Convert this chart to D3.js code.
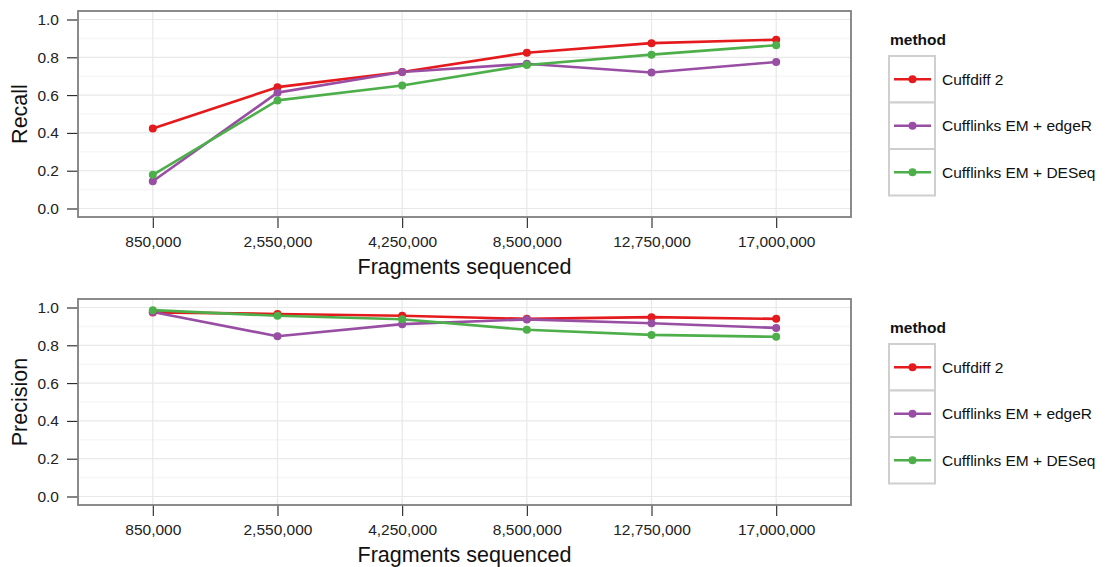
<!DOCTYPE html>
<html>
<head>
<meta charset="utf-8">
<script src="https://cdn.jsdelivr.net/npm/d3@7"></script>
<style>
  html, body { margin: 0; padding: 0; background: #fff; }
  svg { display: block; font-family: "Liberation Sans", Arial, Helvetica, sans-serif; }
</style>
</head>
<body>
<svg id="chart" width="1105" height="567"></svg>
<script>
// ---- data ----
const fragments = ["850,000", "2,550,000", "4,250,000", "8,500,000", "12,750,000", "17,000,000"];
const methods = ["Cuffdiff 2", "Cufflinks EM + edgeR", "Cufflinks EM + DESeq"];
const colors = ["#E41A1C", "#984EA3", "#4DAF4A"];

const recallCuffdiff = [0.423, 0.642, 0.722, 0.824, 0.875, 0.893];
const recallEdgeR    = [0.144, 0.613, 0.722, 0.766, 0.720, 0.775];
const recallDESeq    = [0.178, 0.572, 0.651, 0.759, 0.814, 0.864];

const precisionCuffdiff = [0.974, 0.966, 0.956, 0.940, 0.949, 0.940];
const precisionEdgeR    = [0.976, 0.848, 0.912, 0.937, 0.917, 0.892];
const precisionDESeq    = [0.986, 0.956, 0.938, 0.882, 0.855, 0.845];

const yTicks = [0, 0.2, 0.4, 0.6, 0.8, 1.0];
const yMinor = [0.1, 0.3, 0.5, 0.7, 0.9];

const panels = [
  { title: "Recall", series: [recallCuffdiff, recallEdgeR, recallDESeq], top: 11 },
  { title: "Precision", series: [precisionCuffdiff, precisionEdgeR, precisionDESeq], top: 299 }
];

// ---- layout ----
const svg = d3.select("#chart");
const left = 78, right = 851, panelH = 206;
const smallFont = 15.5, titleFont = 21.5;

const x = d3.scalePoint().domain(fragments).range([left, right]).padding(0.6);

panels.forEach(p => {
  const top = p.top, bottom = top + panelH;
  const y = d3.scaleLinear().domain([-0.045, 1.045]).range([bottom, top]);
  const g = svg.append("g");

  // minor grid
  g.selectAll(".minor").data(yMinor).join("line")
    .attr("x1", left).attr("x2", right)
    .attr("y1", d => y(d)).attr("y2", d => y(d))
    .attr("stroke", "#f7f7f7").attr("stroke-width", 1.6);
  // major grid
  g.selectAll(".majorY").data(yTicks).join("line")
    .attr("x1", left).attr("x2", right)
    .attr("y1", d => y(d)).attr("y2", d => y(d))
    .attr("stroke", "#e8e8e8").attr("stroke-width", 1.2);
  g.selectAll(".majorX").data(fragments).join("line")
    .attr("x1", d => x(d)).attr("x2", d => x(d))
    .attr("y1", top).attr("y2", bottom)
    .attr("stroke", "#e8e8e8").attr("stroke-width", 1.2);

  // axes
  const yAxis = d3.axisLeft(y).tickValues(yTicks).tickFormat(d3.format(".1f"))
    .tickSizeInner(11).tickSizeOuter(0).tickPadding(8);
  const ya = g.append("g").attr("transform", `translate(${left},0)`).call(yAxis);
  ya.select(".domain").remove();
  ya.selectAll("line").attr("stroke", "#222").attr("stroke-width", 1.1);
  ya.selectAll("text").attr("font-size", smallFont).attr("fill", "#222");

  const xAxis = d3.axisBottom(x).tickSizeInner(11).tickSizeOuter(0).tickPadding(8);
  const xa = g.append("g").attr("transform", `translate(0,${bottom})`).call(xAxis);
  xa.select(".domain").remove();
  xa.selectAll("line").attr("stroke", "#222").attr("stroke-width", 1.1);
  xa.selectAll("text").attr("font-size", smallFont).attr("fill", "#222").attr("dy", "0.71em");

  // panel border
  g.append("rect").attr("x", left).attr("y", top)
    .attr("width", right - left).attr("height", panelH)
    .attr("fill", "none").attr("stroke", "#7f7f7f").attr("stroke-width", 1.8);

  // lines
  const line = d3.line().x((d, i) => x(fragments[i])).y(d => y(d));
  p.series.forEach((s, k) => {
    g.append("path").datum(s).attr("d", line)
      .attr("fill", "none").attr("stroke", colors[k]).attr("stroke-width", 2.6)
      .attr("stroke-linejoin", "round");
  });
  p.series.forEach((s, k) => {
    g.selectAll(null).data(s).join("circle")
      .attr("cx", (d, i) => x(fragments[i])).attr("cy", d => y(d))
      .attr("r", 4).attr("fill", colors[k]);
  });

  // titles
  g.append("text").attr("x", (left + right) / 2).attr("y", bottom + 57)
    .attr("text-anchor", "middle").attr("font-size", titleFont).attr("fill", "#111")
    .text("Fragments sequenced");
  g.append("text")
    .attr("transform", `translate(26.5,${(top + bottom) / 2}) rotate(-90)`)
    .attr("text-anchor", "middle").attr("font-size", titleFont).attr("fill", "#111")
    .text(p.title);

  // legend
  const lg = g.append("g").attr("transform", `translate(889,${top + 45})`);
  lg.append("text").attr("x", 1).attr("y", -11).attr("font-size", smallFont)
    .attr("font-weight", "bold").attr("fill", "#111").text("method");
  const keyH = 46.5, keyW = 46;
  methods.forEach((m, k) => {
    const ky = k * keyH;
    lg.append("rect").attr("x", 0).attr("y", ky).attr("width", keyW).attr("height", keyH)
      .attr("fill", "#fff").attr("stroke", "#cfcfcf").attr("stroke-width", 2);
    lg.append("line").attr("x1", 5).attr("x2", 42).attr("y1", ky + keyH / 2).attr("y2", ky + keyH / 2)
      .attr("stroke", colors[k]).attr("stroke-width", 2.6);
    lg.append("circle").attr("cx", 23.5).attr("cy", ky + keyH / 2).attr("r", 4).attr("fill", colors[k]);
    lg.append("text").attr("x", 53).attr("y", ky + keyH / 2).attr("dy", "0.35em")
      .attr("font-size", smallFont).attr("fill", "#111").text(m);
  });
});
</script>
</body>
</html>
